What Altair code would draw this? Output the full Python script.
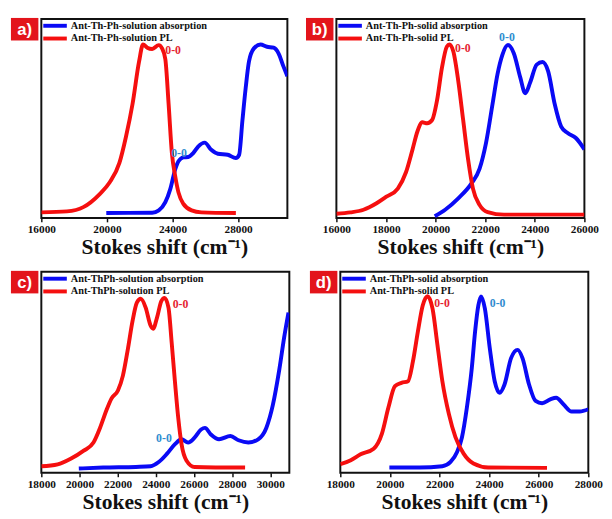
import altair as alt
import pandas as pd

SERIES = ["abs", "pl"]
SERIES_COLORS = ["#0a0af5", "#f50f0f"]
ANN_COLORS = {"abs": "#2f8ccf", "pl": "#e52330"}
BOX_COLOR = "#e3141b"
AXIS_TITLE = "Stokes shift (cm⁻¹)"

# ---------------- panel a ----------------
A_TAG = "a)"
A_LEGEND = ["Ant-Th-Ph-solution absorption", "Ant-Th-Ph-solution PL"]
A_PL_X = [16000, 17560, 18560, 19560, 20160, 20760, 21160, 21560, 21960, 22200, 22460, 22760,
          23160, 23360, 23560, 23760, 23960, 24160, 24360, 24660, 25160, 25760, 27860]
A_PL_Y = [2, 5, 18, 58, 93, 153, 233, 333, 463, 515, 505, 501,
          513, 503, 470, 333, 183, 113, 63, 28, 8, 2, 0]
A_ABS_X = [19960, 22760, 23160, 23560, 23860, 24160, 24360, 24660, 24960, 25260, 25560, 25960,
           26360, 26760, 27360, 27860, 28060, 28260, 28460, 28660, 28960, 29360, 29760, 30160,
           30460, 30760, 31000]
A_ABS_Y = [0, 1, 8, 33, 73, 133, 158, 170, 171, 183, 203, 215,
           193, 181, 178, 168, 178, 283, 383, 463, 503, 515, 508, 505,
           488, 448, 418]
A_XDOM = [16000, 31000]
A_YDOM = [-15, 593]
A_TICKS = [16000, 18000, 20000, 22000, 24000, 26000, 28000, 30000]
A_LABELED = [16000, 20000, 24000, 28000]
A_ANN_X = [23560, 23920]
A_ANN_Y = [498, 183]
A_ANN_S = ["pl", "abs"]

# ---------------- panel b ----------------
B_TAG = "b)"
B_LEGEND = ["Ant-Th-Ph-solid absorption", "Ant-Th-Ph-solid PL"]
B_PL_X = [16000, 16567, 17093, 17620, 18016, 18477, 18806, 19070, 19267, 19465, 19662, 19860,
          20058, 20255, 20453, 20558, 20716, 20914, 21112, 21310, 21507, 21771, 22100, 22759, 26000]
B_PL_Y = [3, 7, 15, 35, 55, 80, 130, 200, 255, 283, 280, 290,
          350, 450, 515, 522, 500, 410, 290, 170, 80, 30, 8, 0, 0]
B_ABS_X = [19966, 20387, 20914, 21441, 21771, 22034, 22298, 22495, 22693, 22917, 23153, 23416,
           23614, 23812, 24076, 24313, 24537, 24800, 25064, 25327, 25656, 26000]
B_ABS_Y = [-5, 15, 50, 95, 140, 220, 340, 430, 490, 520, 495, 420,
           372, 405, 460, 468, 440, 340, 270, 250, 235, 200]
B_XDOM = [16000, 26000]
B_YDOM = [-10, 600]
B_TICKS = list(range(16000, 26001, 1000))
B_LABELED = [16000, 18000, 20000, 22000, 24000, 26000]
B_ANN_X = [20783, 22561]
B_ANN_Y = [512, 543]
B_ANN_S = ["pl", "abs"]

# ---------------- panel c ----------------
C_TAG = "c)"
C_LEGEND = ["Ant-ThPh-solution absorption", "Ant-ThPh-solution PL"]
C_PL_X = [18000, 18855, 19538, 20222, 20734, 21076, 21418, 21675, 22016, 22273, 22529, 22785,
          23007, 23212, 23469, 23725, 23862, 24067, 24290, 24460, 24665, 24836, 25007, 25178,
          25349, 25605, 26032, 28681]
C_PL_Y = [4, 10, 27, 52, 77, 122, 177, 212, 237, 282, 362, 452,
          507, 519, 492, 437, 427, 462, 512, 522, 492, 382, 262, 152,
          72, 22, 2, 0]
C_ABS_X = [19965, 21247, 22956, 23725, 24152, 24580, 25007, 25349, 25691, 26032, 26374, 26579,
           26887, 27314, 27912, 28339, 28852, 29365, 29792, 30134, 30476, 30733, 30955]
C_ABS_Y = [-3, 0, 2, 4, 17, 42, 72, 87, 77, 92, 117, 122,
           102, 87, 97, 84, 77, 87, 122, 192, 302, 402, 477]
C_XDOM = [18000, 31000]
C_YDOM = [-16, 602]
C_TICKS = list(range(18000, 31001, 1000))
C_LABELED = [18000, 20000, 22000, 24000, 26000, 28000, 30000]
C_ANN_X = [24887, 24016]
C_ANN_Y = [502, 92]
C_ANN_S = ["pl", "abs"]

# ---------------- panel d ----------------
D_TAG = "d)"
D_LEGEND = ["Ant-ThPh-solid absorption", "Ant-ThPh-solid PL"]
D_PL_X = [18000, 18422, 18818, 19345, 19675, 19939, 20203, 20466, 20730, 20928, 21126, 21323,
          21521, 21719, 21917, 22115, 22379, 22642, 22972, 23368, 23961, 26335]
D_PL_Y = [11, 23, 41, 58, 103, 183, 248, 258, 263, 323, 413, 493,
          521, 483, 373, 263, 163, 93, 43, 13, 1, 0]
D_ABS_X = [19978, 21192, 22115, 22445, 22708, 22906, 23104, 23302, 23434, 23566, 23671, 23830,
           24027, 24225, 24423, 24621, 24885, 25149, 25346, 25610, 25874, 26138, 26467, 26705,
           26995, 27325, 27654, 28000]
D_ABS_Y = [1, 1, 5, 18, 48, 93, 183, 303, 413, 493, 520, 483,
           363, 263, 228, 253, 333, 358, 333, 253, 203, 196, 208, 213,
           193, 171, 171, 178]
D_XDOM = [18000, 28000]
D_YDOM = [-15, 595]
D_TICKS = list(range(18000, 28001, 1000))
D_LABELED = [18000, 20000, 22000, 24000, 26000, 28000]
D_ANN_X = [21786, 24028]
D_ANN_Y = [501, 501]
D_ANN_S = ["pl", "abs"]

SERIF = "Liberation Serif"


def panel(tag, legend, pl_x, pl_y, abs_x, abs_y, xdom, ydom, ticks, labeled,
          ann_x, ann_y, ann_s, width, height):
    lines = pd.concat([
        pd.DataFrame({"x": abs_x, "y": abs_y, "s": "abs"}),
        pd.DataFrame({"x": pl_x, "y": pl_y, "s": "pl"}),
    ])
    xenc = alt.X(
        "x:Q",
        scale=alt.Scale(domain=xdom, nice=False, zero=False),
        axis=alt.Axis(
            values=ticks,
            labelExpr="indexof(" + str(labeled) + ", datum.value) >= 0 ? format(datum.value, 'd') : ''",
            title=AXIS_TITLE,
        ),
    )
    yenc = alt.Y("y:Q", scale=alt.Scale(domain=ydom, nice=False, zero=False), axis=None)

    line = alt.Chart(lines).mark_line(strokeWidth=4, interpolate="monotone", clip=True).encode(
        x=xenc, y=yenc,
        color=alt.Color("s:N", scale=alt.Scale(domain=SERIES, range=SERIES_COLORS), legend=None),
        detail="s:N",
    )

    ann = pd.DataFrame({"x": ann_x, "y": ann_y, "t": "0-0",
                        "c": [ANN_COLORS[s] for s in ann_s]})
    ann_text = alt.Chart(ann).mark_text(
        align="left", baseline="middle", font=SERIF, fontWeight="bold", fontSize=12
    ).encode(x="x:Q", y="y:Q", text="t:N", color=alt.Color("c:N", scale=None))

    tag_df = pd.DataFrame({"t": [tag]})
    box = alt.Chart(tag_df).mark_rect(color=BOX_COLOR).encode(
        x=alt.value(-31), x2=alt.value(-3), y=alt.value(-1), y2=alt.value(22)
    )
    box_text = alt.Chart(tag_df).mark_text(
        font="Liberation Sans", fontWeight="bold", fontSize=17, color="white",
        align="center", baseline="middle"
    ).encode(x=alt.value(-17), y=alt.value(11), text="t:N")

    leg_layers = []
    for i, (name, col) in enumerate(zip(legend, SERIES_COLORS)):
        ly = 7 + 13 * i
        ldf = pd.DataFrame({"t": [name]})
        leg_layers.append(
            alt.Chart(ldf).mark_rule(strokeWidth=4, color=col).encode(
                x=alt.value(2), x2=alt.value(26), y=alt.value(ly))
        )
        leg_layers.append(
            alt.Chart(ldf).mark_text(
                align="left", baseline="middle", font=SERIF, fontWeight="bold",
                fontSize=10.5, color="#111"
            ).encode(x=alt.value(30), y=alt.value(ly), text="t:N")
        )

    return alt.layer(line, ann_text, box, box_text, *leg_layers).properties(
        width=width, height=height
    )


pa = panel(A_TAG, A_LEGEND, A_PL_X, A_PL_Y, A_ABS_X, A_ABS_Y, A_XDOM, A_YDOM, A_TICKS, A_LABELED,
           A_ANN_X, A_ANN_Y, A_ANN_S, 251, 203)
pb = panel(B_TAG, B_LEGEND, B_PL_X, B_PL_Y, B_ABS_X, B_ABS_Y, B_XDOM, B_YDOM, B_TICKS, B_LABELED,
           B_ANN_X, B_ANN_Y, B_ANN_S, 253, 203)
pc = panel(C_TAG, C_LEGEND, C_PL_X, C_PL_Y, C_ABS_X, C_ABS_Y, C_XDOM, C_YDOM, C_TICKS, C_LABELED,
           C_ANN_X, C_ANN_Y, C_ANN_S, 253, 205)
pd_ = panel(D_TAG, D_LEGEND, D_PL_X, D_PL_Y, D_ABS_X, D_ABS_Y, D_XDOM, D_YDOM, D_TICKS, D_LABELED,
            D_ANN_X, D_ANN_Y, D_ANN_S, 253, 205)

row1 = alt.hconcat(pa, pb, spacing=50, bounds="flush")
row2 = alt.hconcat(pc, pd_, spacing=52, bounds="flush")

chart = alt.vconcat(row1, row2, spacing=258, bounds="flush").properties(
    padding={"left": 2, "top": 4, "right": 0, "bottom": 0}
).configure_view(
    stroke="#111", strokeWidth=2
).configure_axis(
    domain=False, grid=False,
    labelFont=SERIF, labelFontWeight="bold", labelFontSize=11.5, labelColor="#111",
    labelPadding=2, labelFlush=False, labelOverlap=False, labelBound=False,
    tickSize=4, tickWidth=1.5, tickColor="#111",
    titleFont=SERIF, titleFontWeight="bold", titleFontSize=22, titleColor="#111",
    titlePadding=2,
)

chart.save("out.html", embed_options={"renderer": "svg", "actions": False})
